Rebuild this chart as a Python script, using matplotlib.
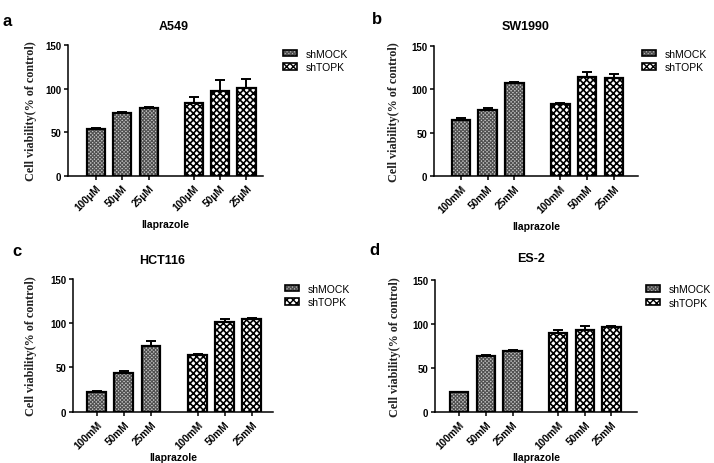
import matplotlib
matplotlib.use("Agg")
import matplotlib.pyplot as plt
from matplotlib.patches import Patch
from matplotlib.legend_handler import HandlerTuple

# ---------------- data ----------------
groups = ["shMOCK", "shTOPK"]
panel_letters = ["a", "b", "c", "d"]
cell_lines = ["A549", "SW1990", "HCT116", "ES-2"]
doses_a = ["100\u03bcM", "50\u03bcM", "25\u03bcM"]
doses_mm = ["100mM", "50mM", "25mM"]
xlabel_text = "Ilaprazole"
ylabel_text = "Cell viability(% of control)"

a549_mock = [53.5, 72, 78]
a549_mock_err = [1.5, 1.2, 1.5]
a549_topk = [83.5, 97.5, 101]
a549_topk_err = [7, 12, 10.5]

sw1990_mock = [65, 76.5, 107.5]
sw1990_mock_err = [1.5, 1.5, 1.0]
sw1990_topk = [82.5, 114, 113]
sw1990_topk_err = [2, 5.5, 4.5]

hct116_mock = [22.5, 43.5, 74]
hct116_mock_err = [1.0, 3, 5.5]
hct116_topk = [64.5, 101.5, 105]
hct116_topk_err = [0.5, 3, 1.0]

es2_mock = [22.5, 63, 69.5]
es2_mock_err = [0.5, 2, 0.8]
es2_topk = [89.5, 93, 96.5]
es2_topk_err = [4, 4.5, 0.8]

panels = [
    (a549_mock, a549_mock_err, a549_topk, a549_topk_err, doses_a),
    (sw1990_mock, sw1990_mock_err, sw1990_topk, sw1990_topk_err, doses_mm),
    (hct116_mock, hct116_mock_err, hct116_topk, hct116_topk_err, doses_mm),
    (es2_mock, es2_mock_err, es2_topk, es2_topk_err, doses_mm),
]

# ---------------- layout (pixels) ----------------
W, H = 714, 464
fig = plt.figure(figsize=(W / 100, H / 100), dpi=100)
fig.patch.set_facecolor("white")


def fx(x):
    return x / W


def fy(y):
    return 1 - y / H


# per panel: first bar center, spacing, left spine, right end, y of 0, y of 150
geo = [
    (96.0, 26.3, 68, 263, 177, 46),
    (461.0, 26.7, 434, 638, 177.3, 46.7),
    (96.7, 27.1, 73, 273, 412.7, 280),
    (459.3, 26.6, 435, 637, 412.7, 281),
]
title_pos = [(174, 27), (526, 27), (162, 261), (531, 259)]
letter_pos = [(7, 22), (377, 20), (17, 252), (374, 251)]
ylabel_x = [31, 394, 31, 395]
legend_pos = [(283, 61.5), (642, 61.5), (285, 296.5), (646, 297)]
xlabel_pad = [4.5, 4.5, 1.5, 1.5]

mock_face = "#c4c4c4"
mock_hatch = "#505050"
topk_face = "white"
topk_hatch = "black"
MOCK_HATCH = "xxxxxxxxx"
TOPK_HATCH = "xxxxx"

SANS = "Liberation Sans"
SERIF = "Liberation Serif"

gpos = [0, 1, 2]
offset = 3.72

for i, (m, me, t, te, labels) in enumerate(panels):
    c0, s, L, R, y0, y150 = geo[i]
    ax = fig.add_axes([fx(L), fy(y0), (R - L) / W, (y0 - y150) / H])
    ax.set_xlim((L - c0) / s, (R - c0) / s)
    ax.set_ylim(0, 150)
    xm = gpos
    xt = [p + offset for p in gpos]
    bw = 0.69
    # error bars (upper only)
    ax.errorbar(xm, m, yerr=[[0] * 3, me], fmt="none", ecolor="black",
                elinewidth=1.4, capsize=3.6, capthick=1.4, zorder=1)
    ax.errorbar(xt, t, yerr=[[0] * 3, te], fmt="none", ecolor="black",
                elinewidth=1.4, capsize=3.6, capthick=1.4, zorder=1)
    with plt.rc_context({"hatch.linewidth": 0.8}):
        ax.bar(xm, m, width=bw, color=mock_face, edgecolor=mock_hatch,
               hatch=MOCK_HATCH, linewidth=0, zorder=2)
    with plt.rc_context({"hatch.linewidth": 1.2}):
        ax.bar(xt, t, width=bw, color=topk_face, edgecolor=topk_hatch,
               hatch=TOPK_HATCH, linewidth=0, zorder=2)
    ax.bar(xm + xt, m + t, width=bw, fill=False, edgecolor="black",
           linewidth=1.6, zorder=3)

    for sp in ["top", "right"]:
        ax.spines[sp].set_visible(False)
    for sp in ["left", "bottom"]:
        ax.spines[sp].set_linewidth(1.1)
    ax.set_yticks([0, 50, 100, 150])
    ax.set_yticklabels(["0", "50", "100", "150"], fontsize=7,
                       fontweight="bold", family=SANS)
    ax.set_xticks(xm + xt)
    ax.set_xticklabels(labels + labels, rotation=45, ha="right", va="top",
                       rotation_mode="anchor", fontsize=7.3, fontweight="bold",
                       family=SANS)
    ax.tick_params(axis="both", length=3, width=1.1, pad=2)
    ax.set_xlabel(xlabel_text, fontsize=7.5, fontweight="bold", family=SANS,
                  labelpad=xlabel_pad[i])
    ax.patch.set_alpha(0)

    # title
    tx, ty = title_pos[i]
    fig.text(fx(tx), fy(ty), cell_lines[i], ha="center", va="center",
             fontsize=9, fontweight="bold", family=SANS)
    # panel letter
    lx, ly = letter_pos[i]
    fig.text(fx(lx), fy(ly), panel_letters[i], ha="center", va="center",
             fontsize=12, fontweight="bold", family=SANS)
    # y label
    fig.text(fx(ylabel_x[i]), fy((y0 + y150) / 2), ylabel_text, rotation=90,
             ha="center", va="center", fontsize=8.7, fontweight="bold",
             family=SERIF, color="#222222")

    # legend
    with plt.rc_context({"hatch.linewidth": 0.8}):
        h1a = Patch(facecolor=mock_face, edgecolor=mock_hatch,
                    hatch=MOCK_HATCH, linewidth=0)
    with plt.rc_context({"hatch.linewidth": 1.2}):
        h2a = Patch(facecolor=topk_face, edgecolor=topk_hatch,
                    hatch=TOPK_HATCH, linewidth=0)
    h1b = Patch(fill=False, edgecolor="black", linewidth=1.2)
    h2b = Patch(fill=False, edgecolor="black", linewidth=1.2)
    lgx, lgy = legend_pos[i]
    fig.legend([(h1a, h1b), (h2a, h2b)], groups,
               handler_map={tuple: HandlerTuple(ndivide=1, pad=0)},
               loc="center left", bbox_to_anchor=(fx(lgx), fy(lgy)),
               bbox_transform=fig.transFigure, frameon=False, borderpad=0,
               borderaxespad=0, handlelength=1.35, handleheight=0.6,
               handletextpad=0.85, labelspacing=0.35,
               prop={"family": SANS, "size": 7.5})

fig.savefig("out.png", dpi=100, facecolor="white")
